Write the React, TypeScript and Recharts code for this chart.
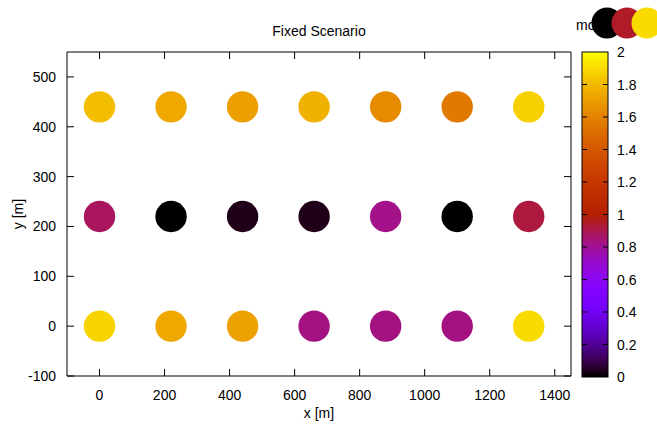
import React from 'react';
import { ScatterChart, Scatter, XAxis, YAxis, ReferenceArea } from 'recharts';

const xPositions = [0, 220, 440, 660, 880, 1100, 1320];
const rowY = [0, 220, 440];
const valuesRow0 = [1.88, 1.74, 1.72, 0.83, 0.83, 0.83, 1.9];
const valuesRow220 = [0.88, 0, 0.03, 0.03, 0.82, 0, 0.92];
const valuesRow440 = [1.81, 1.74, 1.71, 1.77, 1.63, 1.56, 1.87];
const xTicks = [0, 200, 400, 600, 800, 1000, 1200, 1400];
const yTicks = [-100, 0, 100, 200, 300, 400, 500];
const cbTicks = [0, 0.2, 0.4, 0.6, 0.8, 1, 1.2, 1.4, 1.6, 1.8, 2];
const legendLabel = 'mo';
const legendValues = [0, 0.95, 1.9];
const xDomain = [-100, 1450];
const yDomain = [-100, 550];

const rows = [valuesRow0, valuesRow220, valuesRow440];
const points = rows.flatMap((vals, j) =>
  vals.map((v, i) => ({ x: xPositions[i], y: rowY[j], v }))
);

function palette(v: number): string {
  const t = Math.max(0, Math.min(1, v / 2));
  const r = Math.sqrt(t);
  const g = t * t * t;
  const b = Math.max(0, Math.sin(2 * Math.PI * t));
  const h = (c: number) => Math.round(c * 255).toString(16).padStart(2, '0');
  return '#' + h(r) + h(g) + h(b);
}

const FONT = '"Liberation Sans", Arial, sans-serif';
const W = 657;
const H = 427;
const M_TOP = 52;
const M_RIGHT = 86;
const X_AXIS_H = 51;
const Y_AXIS_W = 67;
const PLOT_LEFT = Y_AXIS_W;
const PLOT_RIGHT = W - M_RIGHT;
const PLOT_TOP = M_TOP;
const PLOT_BOTTOM = H - X_AXIS_H;
const TICK = 7;

const Dot = (props: any) => {
  const { cx, cy, payload } = props;
  return <circle cx={cx} cy={cy} r={15.7} fill={palette(payload.v)} />;
};

const XTick = (props: any) => {
  const c = props.payload.coordinate;
  return (
    <g>
      <line x1={c} x2={c} y1={PLOT_BOTTOM} y2={PLOT_BOTTOM - TICK} stroke="#000" />
      <line x1={c} x2={c} y1={PLOT_TOP} y2={PLOT_TOP + TICK} stroke="#000" />
      <text x={c} y={395} textAnchor="middle" dominantBaseline="central" fontSize={14} fill="#000" fontFamily={FONT}>
        {props.payload.value}
      </text>
    </g>
  );
};

const YTick = (props: any) => {
  const c = props.payload.coordinate;
  return (
    <g>
      <line x1={PLOT_LEFT} x2={PLOT_LEFT + TICK} y1={c} y2={c} stroke="#000" />
      <line x1={PLOT_RIGHT} x2={PLOT_RIGHT - TICK} y1={c} y2={c} stroke="#000" />
      <text x={56} y={c} textAnchor="end" dominantBaseline="central" fontSize={14} fill="#000" fontFamily={FONT}>
        {props.payload.value}
      </text>
    </g>
  );
};

const CB_X = 582;
const CB_W = 26;
const CB_TOP = 52;
const CB_BOT = 377;
const cbY = (v: number) => CB_BOT - (v / 2) * (CB_BOT - CB_TOP);

const gradStops = Array.from({ length: 41 }, (_, k) => k / 40);

export default function App() {
  return (
    <div style={{ position: 'fixed', left: 0, top: 0, width: W, height: H, background: '#fff', fontFamily: FONT }}>
      <ScatterChart
        width={W}
        height={H}
        margin={{ top: M_TOP, right: M_RIGHT, bottom: 0, left: 0 }}
        style={{ fontFamily: FONT }}
      >
        <XAxis
          type="number"
          dataKey="x"
          domain={xDomain}
          ticks={xTicks}
          allowDataOverflow
          height={X_AXIS_H}
          tickSize={0}
          tickMargin={0}
          axisLine={false}
          tickLine={false}
          tick={XTick}
          interval={0}
        />
        <YAxis
          type="number"
          dataKey="y"
          domain={yDomain}
          ticks={yTicks}
          allowDataOverflow
          width={Y_AXIS_W}
          tickSize={0}
          tickMargin={0}
          axisLine={false}
          tickLine={false}
          tick={YTick}
          interval={0}
        />
        <ReferenceArea
          x1={xDomain[0]}
          x2={xDomain[1]}
          y1={yDomain[0]}
          y2={yDomain[1]}
          fill="none"
          fillOpacity={0}
          stroke="#000"
          strokeWidth={1}
          ifOverflow="visible"
        />
        <Scatter data={points} shape={Dot} isAnimationActive={false} />
      </ScatterChart>
      <svg
        width={W}
        height={H}
        style={{ position: 'absolute', left: 0, top: 0, pointerEvents: 'none' }}
        fontFamily={FONT}
      >
        <defs>
          <linearGradient id="cbgrad" x1="0" y1="1" x2="0" y2="0">
            {gradStops.map((s) => (
              <stop key={s} offset={s} stopColor={palette(s * 2)} />
            ))}
          </linearGradient>
        </defs>
        <text x={319} y={31} textAnchor="middle" dominantBaseline="central" fontSize={14} fill="#000">
          Fixed Scenario
        </text>
        <text x={319} y={413} textAnchor="middle" dominantBaseline="central" fontSize={14} fill="#000">
          x [m]
        </text>
        <text
          x={18}
          y={214}
          textAnchor="middle"
          dominantBaseline="central"
          fontSize={14}
          fill="#000"
          transform="rotate(-90 18 214)"
        >
          y [m]
        </text>
        <rect x={CB_X} y={CB_TOP} width={CB_W} height={CB_BOT - CB_TOP} fill="url(#cbgrad)" stroke="#000" strokeWidth={1} />
        {cbTicks.map((t) => (
          <g key={t}>
            {t > 0 && t < 2 && (
              <>
                <line x1={CB_X} x2={CB_X + 5} y1={cbY(t)} y2={cbY(t)} stroke="#000" />
                <line x1={CB_X + CB_W - 5} x2={CB_X + CB_W} y1={cbY(t)} y2={cbY(t)} stroke="#000" />
              </>
            )}
            <text x={617} y={cbY(t)} dominantBaseline="central" fontSize={14} fill="#000">
              {String(t)}
            </text>
          </g>
        ))}
        <text x={576} y={25} dominantBaseline="central" fontSize={14} fill="#000">
          {legendLabel}
        </text>
        {legendValues.map((v, i) => (
          <circle key={i} cx={607 + i * 20} cy={23} r={15.5} fill={palette(v)} />
        ))}
      </svg>
    </div>
  );
}
